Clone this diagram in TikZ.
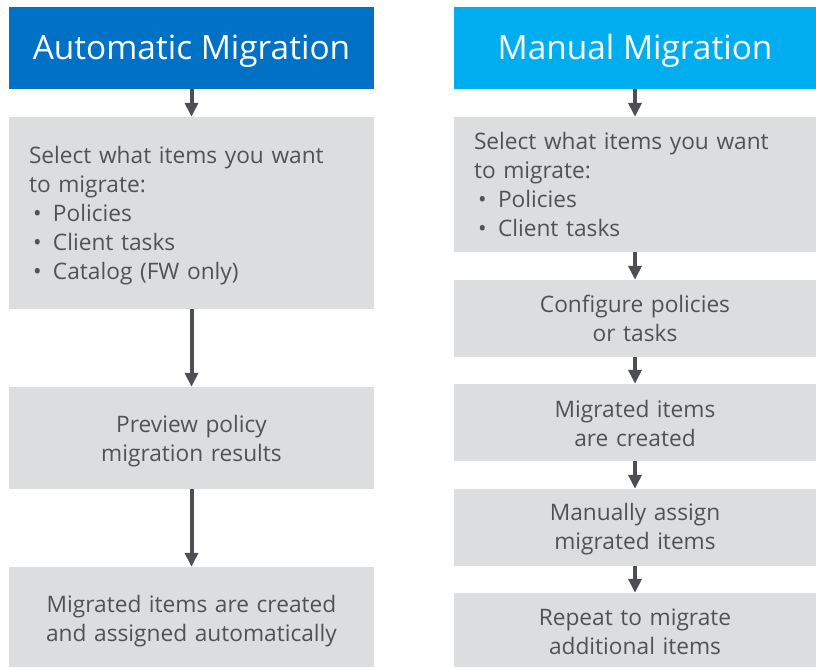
\documentclass[tikz,border=0pt]{standalone}
\usepackage{fontspec}
\setmainfont{Open Sans}
\usetikzlibrary{arrows.meta}
\definecolor{autoblue}{HTML}{0071C5}
\definecolor{manblue}{HTML}{00AEEF}
\definecolor{boxgray}{HTML}{DCDDDE}
\definecolor{txtgray}{HTML}{505356}
\definecolor{arrgray}{HTML}{4D4F53}
\newcommand{\bul}[1]{\hspace*{4pt}\makebox[20pt][l]{•}#1}

\begin{document}
\begin{tikzpicture}[x=1pt,y=1pt,yscale=-1,
  headbox/.style={inner sep=0pt,text=white,font=\fontsize{33.4}{38}\selectfont,text height=31pt,text depth=8pt},
  stepbox/.style={fill=boxgray,inner sep=0pt,text=txtgray,font=\fontsize{22.7}{29}\selectfont,text width=322pt,align=center},
  drop/.style={execute at begin node={\rule{0pt}{#1}}},
  flow/.style={draw=arrgray,line width=4pt,-{Triangle[length=14pt,width=13pt]}}]
\useasboundingbox (0,0) rectangle (816,667);

%Automatic column
\node [headbox,fill=autoblue,minimum width=365,minimum height=82] (ahead) at (191.5,48) {Automatic Migration};
\node [stepbox,minimum width=365,minimum height=192,text width=325,align=left,drop=23pt] (a1) at (191.5,213)
  {Select what items you want\\to migrate:\\\bul{Policies}\\\bul{Client tasks}\\\bul{Catalog (FW only)}};
\node [stepbox,minimum width=365,minimum height=102,drop=23pt] (a2) at (191.5,438) {Preview policy\\migration results};
\node [stepbox,minimum width=365,minimum height=100,drop=25pt] (a3) at (191.5,617) {Migrated items are created\\and assigned automatically};

%Manual column
\node [headbox,fill=manblue,minimum width=362,minimum height=82] (mhead) at (635,48) {Manual Migration};
\node [stepbox,minimum width=362,minimum height=135,align=left] (m1) at (635,184.5)
  {Select what items you want\\to migrate:\\\bul{Policies}\\\bul{Client tasks}};
\node [stepbox,minimum width=362,minimum height=77] (m2) at (635,318.5) {Configure policies\\or tasks};
\node [stepbox,minimum width=362,minimum height=77,drop=19pt] (m3) at (635,422.5) {Migrated items\\are created};
\node [stepbox,minimum width=362,minimum height=77,drop=21pt] (m4) at (635,527.5) {Manually assign\\migrated items};
\node [stepbox,minimum width=362,minimum height=74,drop=21pt] (m5) at (635,630) {Repeat to migrate\\additional items};

%Arrows
\draw [flow] (ahead) -- (a1);
\draw [flow] (a1) -- (a2);
\draw [flow] (a2) -- (a3);
\draw [flow] (mhead) -- (m1);
\draw [flow] (m1) -- (m2);
\draw [flow] (m2) -- (m3);
\draw [flow] (m3) -- (m4);
\draw [flow] (m4) -- (m5);
\end{tikzpicture}
\end{document}
